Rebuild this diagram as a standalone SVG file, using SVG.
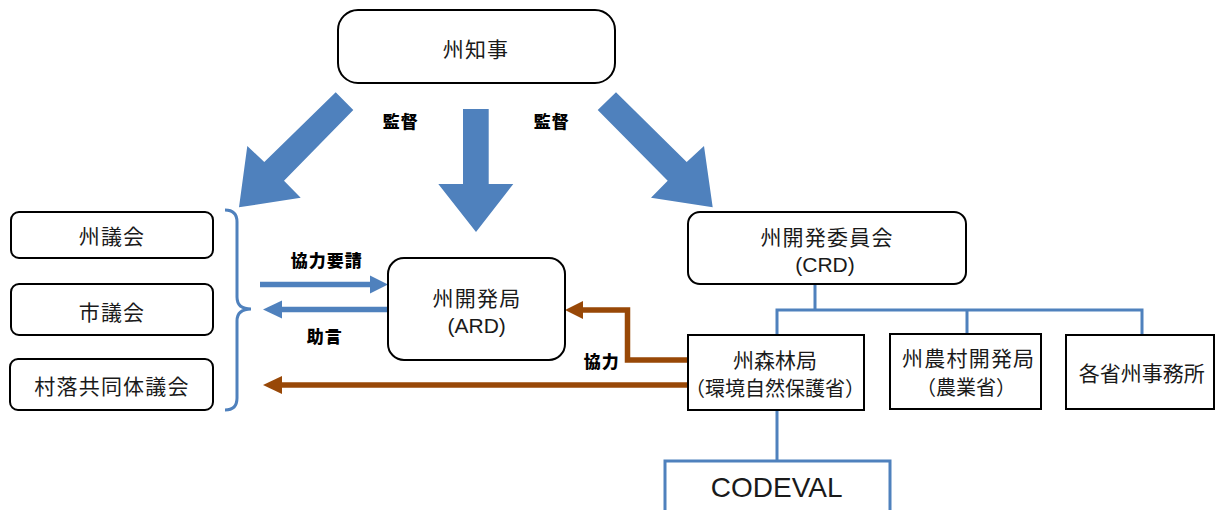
<svg xmlns="http://www.w3.org/2000/svg" width="1216" height="510" viewBox="0 0 1216 510">
<style>
.box{fill:#fff;stroke:#000;stroke-width:2}
.t{font-family:"Liberation Sans","Noto Sans CJK JP",sans-serif;font-size:21px;fill:#1a1a1a;text-anchor:middle}
.ls{letter-spacing:1.2px}
.s19{font-size:20px}
.s28{font-size:28px}
.lbl{font-family:"Noto Sans CJK JP","Liberation Sans",sans-serif;font-size:17px;font-weight:900;fill:#000;text-anchor:middle;letter-spacing:1px}
.blue{fill:none;stroke:#4F81BD;stroke-width:3}
.bfill{fill:#4F81BD}
.brown{fill:none;stroke:#984807;stroke-width:5.5}
.brfill{fill:#984807}
</style>
<rect width="1216" height="510" fill="#fff"/>
<g id="connectors">
  <polygon class="bfill" points="335.7,92.3 353.3,110 284,180.7 300.7,197.7 239,207.3 247.3,146 264.3,162"/>
  <polygon class="bfill" points="463,109 488.7,109 488.7,184 513.3,184 476,232 438.3,184 463,184"/>
  <polygon class="bfill" points="616,92.3 597.7,110 667.7,180.7 651,197.7 712.7,207.3 704,146 686.7,162"/>
  <path class="blue" d="M225,210 Q237,210 237,222 L237,297 Q237,309 251,309 Q237,309 237,321 L237,398 Q237,410 225,410" stroke-width="2.2"/>
  <line x1="260" y1="284.5" x2="372" y2="284.5" stroke="#4F81BD" stroke-width="5.5"/>
  <polygon class="bfill" points="370,275.5 388,284.5 370,293.5"/>
  <line x1="388" y1="309.5" x2="280" y2="309.5" stroke="#4F81BD" stroke-width="5.5"/>
  <polygon class="bfill" points="282,300.5 263,309.5 282,318.5"/>
  <line x1="689" y1="385" x2="280" y2="385" stroke="#984807" stroke-width="5.5"/>
  <polygon class="brfill" points="282,376 263,385 282,394"/>
  <path class="brown" d="M689,360 H627.5 V310 H581"/>
  <polygon class="brfill" points="583,301 565,310 583,319"/>
  <path class="blue" d="M815,284 V310 M777,335 V310 H1142 V335 M967,310 V334 M777,410 V461"/>
  <text class="lbl" x="400.7" y="128">監督</text>
  <text class="lbl" x="551.7" y="128">監督</text>
  <text class="lbl" x="326.7" y="266.5">協力要請</text>
  <text class="lbl" x="324.7" y="342.5">助言</text>
  <text class="lbl" x="601.7" y="367.5">協力</text>
</g>
<g id="governor">
  <rect class="box" x="338" y="10" width="277" height="73" rx="20" stroke-width="2.5"/>
  <text class="t ls" x="476" y="57">州知事</text>
</g>
<g id="state-council">
  <rect class="box" x="11" y="212" width="202" height="46" rx="8"/>
  <text class="t ls" x="112" y="244">州議会</text>
</g>
<g id="city-council">
  <rect class="box" x="11" y="284" width="202" height="51" rx="8"/>
  <text class="t ls" x="112" y="319.5">市議会</text>
</g>
<g id="village-council">
  <rect class="box" x="10" y="359" width="203" height="51" rx="8"/>
  <text class="t ls" x="112" y="393.5">村落共同体議会</text>
</g>
<g id="ard">
  <rect class="box" x="388" y="258" width="177" height="102" rx="16" stroke-width="3"/>
  <text class="t ls" x="477" y="306">州開発局</text>
  <text class="t" x="476.7" y="333.3">(ARD)</text>
</g>
<g id="crd">
  <rect class="box" x="688" y="212" width="278" height="72" rx="12"/>
  <text class="t ls" x="827" y="245.3">州開発委員会</text>
  <text class="t" x="825" y="271.5">(CRD)</text>
</g>
<g id="forest">
  <rect class="box" x="688" y="335" width="176" height="75"/>
  <text class="t" x="775" y="368">州森林局</text>
  <text class="t s19" x="775" y="396">（環境自然保護省）</text>
</g>
<g id="rural">
  <rect class="box" x="890" y="334" width="151" height="75"/>
  <text class="t ls" x="968.7" y="366.3">州農村開発局</text>
  <text class="t s19" x="966" y="394.5">（農業省）</text>
</g>
<g id="offices">
  <rect class="box" x="1066" y="335" width="148" height="74"/>
  <text class="t" x="1141.7" y="381.3">各省州事務所</text>
</g>
<g id="codeval">
  <rect x="665" y="461" width="225" height="60" fill="#fff" stroke="#4F81BD" stroke-width="3"/>
  <text class="t s28" x="776.7" y="496.7">CODEVAL</text>
</g>
</svg>
